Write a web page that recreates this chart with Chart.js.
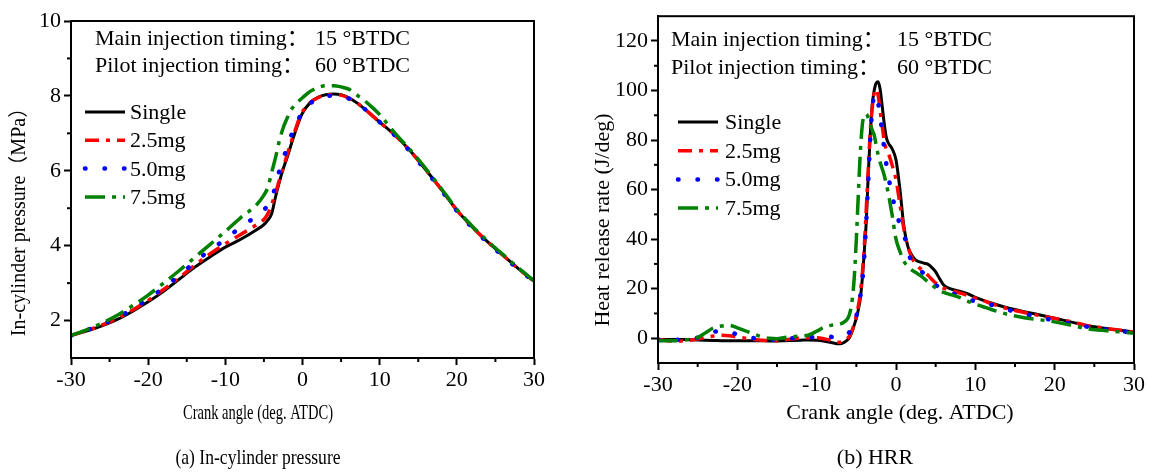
<!DOCTYPE html>
<html>
<head>
<meta charset="utf-8">
<script src="https://cdn.jsdelivr.net/npm/chart.js@4.4.1/dist/chart.umd.min.js"></script>
<style>
  html, body { margin: 0; padding: 0; background: #fff; }
  #wrap { position: relative; width: 1150px; height: 472px; }
  canvas { position: absolute; top: 0; }
  #cvP { left: 0; }
  #cvH { left: 575px; }
</style>
</head>
<body>
<div id="wrap">
  <canvas id="cvP" width="575" height="472"></canvas>
  <canvas id="cvH" width="575" height="472"></canvas>
</div>
<script>
// ---- data ----
const seriesNames = ['Single', '2.5mg', '5.0mg', '7.5mg'];

const xTicks = [-30, -20, -10, 0, 10, 20, 30];
const xMinor = [-25, -15, -5, 5, 15, 25];
const pTicks = [2, 4, 6, 8, 10];
const pMinor = [3, 5, 7, 9];
const hTicks = [0, 20, 40, 60, 80, 100, 120];
const hMinor = [10, 30, 50, 70, 90, 110];

// (a) in-cylinder pressure, MPa
const pAngle = [-30,-28,-26,-24,-22,-20,-18,-16,-14,-12,-10,-8,-6,-5,-4.5,-4,-3.5,-3,-2.5,-2,-1.5,-1,-0.5,0,
  1,2,3,4,5,6,7,8,9,10,12,14,16,18,20,22,24,26,28,30];
const pSingle = [1.60,1.72,1.86,2.03,2.25,2.50,2.78,3.10,3.42,3.70,3.96,4.17,4.42,4.56,4.68,4.85,5.30,5.70,6.05,6.35,6.68,7.00,7.30,7.54,
  7.82,7.96,8.03,8.05,8.03,7.95,7.82,7.66,7.48,7.30,6.95,6.52,6.02,5.50,4.95,4.50,4.10,3.74,3.38,3.05];
const p25mg = [1.60,1.73,1.88,2.06,2.28,2.54,2.83,3.14,3.47,3.78,4.05,4.30,4.55,4.70,4.85,5.10,5.40,5.75,6.08,6.42,6.75,7.05,7.35,7.58,
  7.82,7.95,8.02,8.04,8.02,7.94,7.82,7.66,7.48,7.30,6.95,6.52,6.02,5.50,4.95,4.50,4.10,3.74,3.38,3.05];
const p50mg = [1.60,1.74,1.90,2.08,2.31,2.58,2.87,3.20,3.55,3.88,4.17,4.50,4.78,4.95,5.08,5.25,5.60,6.00,6.32,6.62,6.92,7.16,7.38,7.58,
  7.80,7.93,7.99,8.01,7.99,7.93,7.82,7.66,7.48,7.30,6.94,6.50,6.00,5.48,4.93,4.48,4.08,3.72,3.37,3.04];
const p75mg = [1.60,1.75,1.93,2.14,2.40,2.68,3.00,3.33,3.68,4.03,4.38,4.75,5.08,5.35,5.55,5.95,6.35,6.80,7.15,7.40,7.62,7.75,7.86,7.95,
  8.12,8.22,8.27,8.27,8.24,8.18,8.03,7.88,7.70,7.50,7.00,6.55,6.05,5.52,4.97,4.52,4.12,3.76,3.40,3.06];

// (b) heat release rate, J/deg
const hAngle = [-30,-29,-28,-27,-26,-25,-24,-23,-22,-21,-20,-19,-18,-17,-16,-15,-14,-13,-12,-11,-10,-9,-8,
  -7.5,-7,-6.5,-6,
  -5.75,-5.5,-5.25,-5,-4.75,-4.5,-4.25,-4,-3.75,-3.5,-3.25,-3,-2.75,-2.5,-2.25,-2,-1.75,-1.5,-1.25,-1,
  -0.5,0,0.5,1,1.5,2,2.5,3,3.5,4,4.5,5,5.5,6,
  7,8,9,10,11,12,
  14,16,18,20,22,24,26,28,30];
const hSingle = [-0.5,-0.5,-0.5,-0.5,-0.6,-0.7,-0.8,-0.9,-1.0,-1.0,-1.0,-1.0,-1.0,-1.0,-1.1,-1.1,-1.0,-0.9,-0.8,-0.7,-0.8,-1.2,-1.8,
  -2.2,-2.2,-1.6,-0.3,
  1.0,3.0,5.5,8.0,11.5,16.0,24.0,35.0,47.0,66.0,82.0,94.0,100.0,103.0,103.5,100.5,94.0,87.0,81.5,79.0,
  76.5,72.0,60.0,45.0,37.0,33.5,31.5,30.8,30.3,29.9,28.6,26.8,24.0,21.5,
  19.8,19.0,18.0,16.5,15.3,14.2,
  12.3,10.8,9.5,8.1,6.6,5.1,4.1,3.3,2.5];
const h25mg = [-0.5,-0.9,-1.2,-1.1,-0.8,-0.3,0.3,0.9,1.2,1.0,0.5,0.0,-0.5,-0.8,-1.0,-1.0,-0.7,-0.2,0.0,0.2,0.2,-0.3,-1.0,
  -1.6,-1.6,-1.0,0.3,
  1.5,3.5,6.0,9.0,13.0,18.0,26.0,37.0,52.0,68.0,83.0,93.0,99.0,100.5,98.0,92.0,86.0,80.0,76.5,75.0,
  70.0,64.0,54.0,44.0,37.0,32.5,30.0,28.3,27.0,25.5,23.8,22.3,21.0,20.2,
  19.2,18.3,17.3,16.2,15.2,14.0,
  12.0,10.5,9.2,8.0,6.7,5.2,4.2,3.3,2.5];
const h50mg = [-0.5,-0.6,-0.7,-0.5,-0.3,0.2,1.2,2.5,3.0,2.4,1.6,0.8,0.1,-0.4,-0.6,-0.6,-0.3,0.0,0.3,0.4,0.5,0.8,0.5,
  0.2,0.2,0.8,2.0,
  3.0,4.5,6.5,9.0,12.5,17.0,23.0,33.0,47.0,63.0,80.0,92.0,98.0,98.5,95.0,90.0,83.0,77.0,71.0,66.0,
  58.0,51.0,46.0,42.0,35.0,31.0,29.0,27.7,26.0,24.3,22.8,21.5,20.5,19.7,
  18.4,16.8,15.6,15.0,14.4,13.5,
  11.6,9.9,8.4,7.2,5.9,4.7,3.7,3.0,2.2];
const h75mg = [-1.0,-1.0,-1.0,-0.8,-0.5,0.3,2.2,4.2,4.9,5.2,4.2,3.0,1.8,0.6,0.0,-0.2,0.3,0.6,0.9,1.3,2.8,4.6,5.3,
  5.5,5.8,6.6,8.5,
  11.0,16.0,25.0,40.0,58.0,75.0,86.0,90.0,90.5,89.0,86.5,84.0,82.0,78.0,74.0,71.0,68.5,66.0,62.5,59.0,
  50.0,40.0,35.0,31.0,29.0,27.5,26.5,25.5,24.2,22.8,21.5,20.3,19.3,18.5,
  17.5,16.5,15.0,13.8,12.7,11.6,
  9.7,8.4,7.5,6.6,5.3,3.9,3.2,2.6,2.0];

// ---- styling ----
const FONT = "'Liberation Serif', 'Times New Roman', 'Noto Sans CJK SC', serif";
Chart.defaults.font.family = FONT;
Chart.defaults.font.size = 22;
Chart.defaults.color = '#000';

const lineStyles = [
  { borderColor: '#000000', borderWidth: 3, borderDash: [], borderCapStyle: 'butt', order: 4 },
  { borderColor: '#ff0000', borderWidth: 3.5, borderDash: [14, 7, 4, 7], borderCapStyle: 'butt', order: 3 },
  { borderColor: '#0000ff', borderWidth: 4.5, borderDash: [0.5, 19], borderCapStyle: 'round', order: 2 },
  { borderColor: '#008000', borderWidth: 3.5, borderDash: [20, 7, 4, 7], borderCapStyle: 'butt', order: 1 }
];

function toPoints(xs, ys) { return xs.map((x, i) => ({ x: x, y: ys[i] })); }

function makeDatasets(xs, list) {
  return list.map((ys, i) => Object.assign({
    label: seriesNames[i],
    data: toPoints(xs, ys),
    fill: false,
    pointRadius: 0,
    cubicInterpolationMode: 'monotone'
  }, lineStyles[i]));
}

// text drawn centred at (x, y), optionally squeezed horizontally
function squeezedText(ctx, t) {
  ctx.save();
  ctx.translate(t.x, t.y);
  ctx.scale(t.sx || 1, 1);
  ctx.fillText(t.text, 0, 0);
  ctx.restore();
}

// frame, minor ticks, notes, legend, axis titles and captions
const decor = {
  id: 'decor',
  afterDraw(chart, args, o) {
    const { ctx, chartArea: a, scales } = chart;
    ctx.save();
    ctx.strokeStyle = '#000';
    ctx.lineWidth = 2;
    ctx.strokeRect(a.left, a.top, a.right - a.left, a.bottom - a.top);
    o.xMinor.forEach(v => {
      const px = scales.x.getPixelForValue(v);
      ctx.beginPath(); ctx.moveTo(px, a.bottom); ctx.lineTo(px, a.bottom + 4); ctx.stroke();
    });
    o.yMinor.forEach(v => {
      const py = scales.y.getPixelForValue(v);
      ctx.beginPath(); ctx.moveTo(a.left, py); ctx.lineTo(a.left - 4, py); ctx.stroke();
    });

    ctx.fillStyle = '#000';
    ctx.font = '22px ' + FONT;
    ctx.textAlign = 'left';
    ctx.textBaseline = 'alphabetic';
    o.notes.forEach(n => ctx.fillText(n.text, a.left + n.dx, n.y));

    const lg = o.legend;
    chart.data.datasets.forEach((ds, i) => {
      const y = lg.y0 + i * lg.dy;
      ctx.save();
      ctx.strokeStyle = ds.borderColor;
      ctx.lineWidth = ds.borderWidth;
      ctx.lineCap = ds.borderCapStyle;
      ctx.setLineDash(ds.borderDash);
      ctx.beginPath();
      ctx.moveTo(a.left + lg.x0, y - 7);
      ctx.lineTo(a.left + lg.x1, y - 7);
      ctx.stroke();
      ctx.restore();
      ctx.fillText(ds.label, a.left + lg.tx, y);
    });

    ctx.textAlign = 'center';
    squeezedText(ctx, o.xTitle);
    squeezedText(ctx, o.caption);

    ctx.translate(o.yTitle.x, o.yTitle.y);
    ctx.rotate(-Math.PI / 2);
    ctx.font = o.yTitle.size + 'px ' + FONT;
    ctx.textBaseline = 'middle';
    ctx.fillText(o.yTitle.text, 0, 0);
    ctx.restore();
  }
};

function makeChart(id, datasets, yMin, yMax, yTicks, area, decorOpts) {
  const axisGrid = { display: true, drawOnChartArea: false, drawTicks: true, tickLength: 7, tickWidth: 2, tickColor: '#000' };
  const axisBorder = { display: true, color: '#000', width: 2 };
  return new Chart(document.getElementById(id), {
    type: 'line',
    data: { datasets: datasets },
    options: {
      responsive: false,
      animation: false,
      devicePixelRatio: 1,
      layout: { padding: { top: area.top, right: 575 - area.right, bottom: 472 - area.bottom - 40, left: 0 } },
      plugins: { legend: { display: false }, tooltip: { enabled: false }, decor: decorOpts },
      scales: {
        x: {
          type: 'linear', min: -30, max: 30,
          afterBuildTicks: s => { s.ticks = xTicks.map(v => ({ value: v })); },
          afterFit: s => { s.height = 40; },
          grid: axisGrid, border: axisBorder,
          ticks: { padding: 2, maxRotation: 0, callback: v => String(v) }
        },
        y: {
          type: 'linear', min: yMin, max: yMax,
          afterBuildTicks: s => { s.ticks = yTicks.map(v => ({ value: v })); },
          afterFit: s => { s.width = area.left; },
          grid: axisGrid, border: axisBorder,
          ticks: { padding: 3, callback: v => String(v) }
        }
      }
    },
    plugins: [decor]
  });
}

makeChart('cvP', makeDatasets(pAngle, [pSingle, p25mg, p50mg, p75mg]), 1, 10, pTicks,
  { left: 71, top: 21, right: 534, bottom: 358 },
  {
    xMinor: xMinor, yMinor: pMinor,
    notes: [
      { text: 'Main injection timing：', dx: 24, y: 45 },
      { text: '15 °BTDC', dx: 244, y: 45 },
      { text: 'Pilot injection timing：', dx: 24, y: 72 },
      { text: '60 °BTDC', dx: 244, y: 72 }
    ],
    legend: { x0: 14, x1: 54, tx: 59, y0: 119, dy: 28.3 },
    xTitle: { text: 'Crank angle (deg. ATDC)', x: 258, y: 419, sx: 0.66 },
    caption: { text: '(a) In-cylinder pressure', x: 258, y: 464, sx: 0.8 },
    yTitle: { text: 'In-cylinder pressure（MPa）', x: 20, y: 217, size: 20 }
  });

makeChart('cvH', makeDatasets(hAngle, [hSingle, h25mg, h50mg, h75mg]), -10, 130, hTicks,
  { left: 83, top: 16, right: 559, bottom: 363 },
  {
    xMinor: xMinor, yMinor: hMinor,
    notes: [
      { text: 'Main injection timing：', dx: 13, y: 46 },
      { text: '15 °BTDC', dx: 239, y: 46 },
      { text: 'Pilot injection timing：', dx: 13, y: 74 },
      { text: '60 °BTDC', dx: 239, y: 74 }
    ],
    legend: { x0: 20, x1: 60, tx: 67, y0: 129, dy: 28.7 },
    xTitle: { text: 'Crank angle (deg. ATDC)', x: 325, y: 419 },
    caption: { text: '(b) HRR', x: 300, y: 464 },
    yTitle: { text: 'Heat release rate (J/deg)', x: 28, y: 220, size: 22 }
  });
</script>
</body>
</html>
